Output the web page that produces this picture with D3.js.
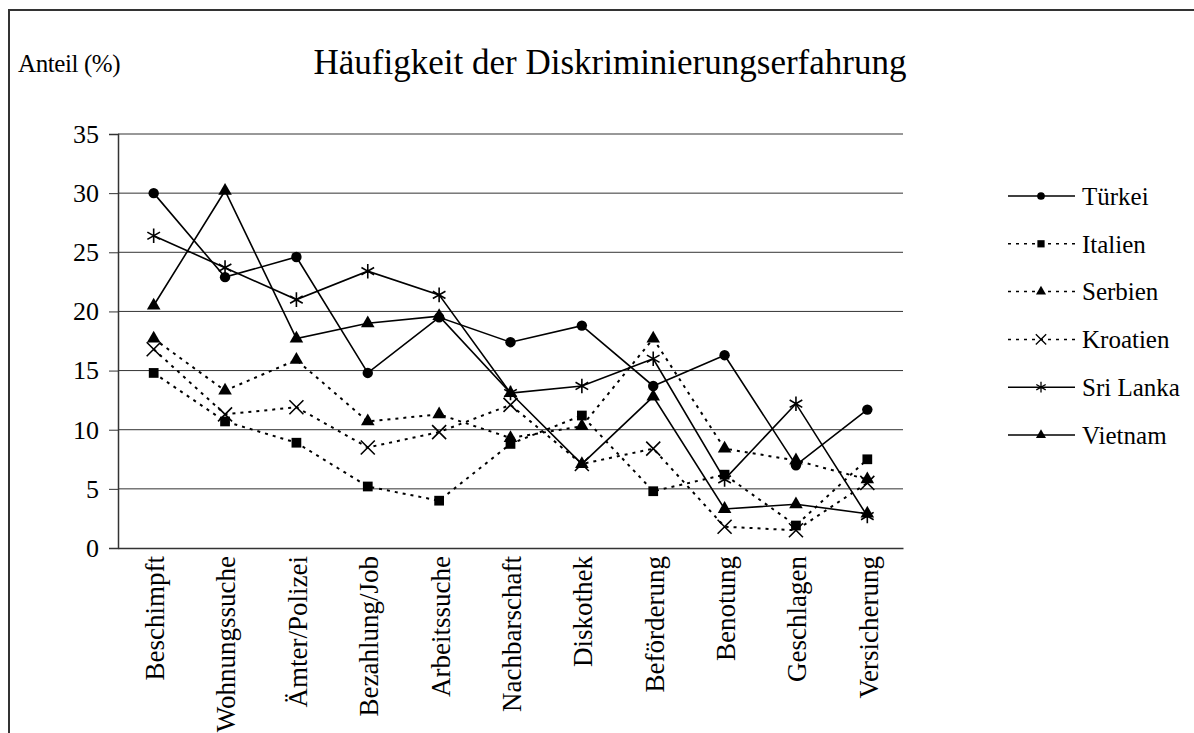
<!DOCTYPE html>
<html>
<head>
<meta charset="utf-8">
<script src="https://cdn.jsdelivr.net/npm/d3@7"></script>
<style>
  body { margin: 0; background: #fff; }
  text { font-family: "Liberation Serif", "Times New Roman", serif; fill: #000; }
</style>
</head>
<body>
<div id="chart"></div>
<script>
// Kategorien und Werte (Anteil in %)
const categories = ["Beschimpft", "Wohnungssuche", "Ämter/Polizei", "Bezahlung/Job", "Arbeitssuche",
    "Nachbarschaft", "Diskothek", "Beförderung", "Benotung", "Geschlagen", "Versicherung"];
const tuerkei  = [30.0, 22.9, 24.6, 14.8, 19.5, 17.4, 18.8, 13.7, 16.3, 7.0, 11.7];
const italien  = [14.8, 10.7, 8.9, 5.2, 4.0, 8.8, 11.2, 4.8, 6.2, 1.9, 7.5];
const serbien  = [17.7, 13.3, 15.9, 10.7, 11.3, 9.3, 10.3, 17.7, 8.4, 7.4, 5.8];
const kroatien = [16.8, 11.3, 11.9, 8.5, 9.8, 12.1, 7.1, 8.4, 1.8, 1.5, 5.5];
const srilanka = [26.4, 23.7, 21.0, 23.4, 21.4, 13.1, 13.7, 16.0, 5.8, 12.2, 2.7];
const vietnam  = [20.5, 30.2, 17.7, 19.0, 19.6, 13.1, 7.1, 12.8, 3.3, 3.7, 2.9];
const seriesNames = ["Türkei", "Italien", "Serbien", "Kroatien", "Sri Lanka", "Vietnam"];
const yTicks = [0, 5, 10, 15, 20, 25, 30, 35];

const W = 1194, H = 733;
const plot = {left: 118, right: 903, top: 134, bottom: 548};

const series = [
    {name: seriesNames[0], values: tuerkei,  symbol: d3.symbolCircle,   size: 85,  dash: null, stroke: false},
    {name: seriesNames[1], values: italien,  symbol: d3.symbolSquare,   size: 95,  dash: "3,5", stroke: false},
    {name: seriesNames[2], values: serbien,  symbol: d3.symbolTriangle, size: 80,  dash: "3,5", stroke: false},
    {name: seriesNames[3], values: kroatien, symbol: d3.symbolTimes,    size: 130, dash: "3,5", stroke: true},
    {name: seriesNames[4], values: srilanka, symbol: d3.symbolAsterisk, size: 150, dash: null, stroke: true},
    {name: seriesNames[5], values: vietnam,  symbol: d3.symbolTriangle, size: 80,  dash: null, stroke: false}
];

const svg = d3.select("#chart").append("svg")
    .attr("width", W)
    .attr("height", H);

// Rahmen
svg.append("rect")
    .attr("x", 9).attr("y", 10)
    .attr("width", W + 20).attr("height", H + 20)
    .attr("fill", "none")
    .attr("stroke", "#333")
    .attr("stroke-width", 2);

const xScale = d3.scaleBand()
    .domain(categories)
    .range([plot.left, plot.right]);
const cx = c => xScale(c) + xScale.bandwidth() / 2;

const yScale = d3.scaleLinear()
    .domain([0, 35])
    .range([plot.bottom, plot.top]);

// Gitternetz
svg.append("g")
    .selectAll("line")
    .data(yTicks.slice(1))
    .join("line")
    .attr("x1", plot.left).attr("x2", plot.right)
    .attr("y1", d => yScale(d)).attr("y2", d => yScale(d))
    .attr("stroke", "#333")
    .attr("stroke-width", 1);

// y-Achse
const yAxis = svg.append("g")
    .attr("transform", `translate(${plot.left},0)`)
    .call(d3.axisLeft(yScale).tickValues(yTicks).tickSize(9).tickPadding(10));
yAxis.select(".domain").attr("stroke", "#333").attr("stroke-width", 1.5);
yAxis.selectAll(".tick line").attr("stroke", "#333");
yAxis.selectAll(".tick text")
    .attr("font-size", 26)
    .attr("font-family", "Liberation Serif, serif");

// x-Achse
const xAxis = svg.append("g")
    .attr("transform", `translate(0,${plot.bottom})`)
    .call(d3.axisBottom(xScale).tickSize(0).tickPadding(0));
xAxis.select(".domain").attr("stroke", "#333").attr("stroke-width", 1.5);
xAxis.selectAll(".tick text")
    .attr("font-size", 27)
    .attr("font-family", "Liberation Serif, serif")
    .attr("text-anchor", "end")
    .attr("transform", "translate(1,8) rotate(-90)")
    .attr("x", 0)
    .attr("y", 0)
    .attr("dy", "0.35em");

// Linien
const line = d3.line()
    .x((d, i) => cx(categories[i]))
    .y(d => yScale(d));

series.forEach(s => {
    svg.append("path")
        .datum(s.values)
        .attr("fill", "none")
        .attr("stroke", "#000")
        .attr("stroke-width", s.dash ? 2 : 1.6)
        .attr("stroke-dasharray", s.dash)
        .attr("d", line);
});

series.forEach(s => {
    svg.append("g")
        .selectAll("path")
        .data(s.values)
        .join("path")
        .attr("transform", (d, i) => `translate(${cx(categories[i])},${yScale(d)})`)
        .attr("d", d3.symbol().type(s.symbol).size(s.size))
        .attr("fill", s.stroke ? "none" : "#000")
        .attr("stroke", s.stroke ? "#000" : "none")
        .attr("stroke-width", 1.6);
});

// Legende
const legend = svg.append("g");
series.forEach((s, i) => {
    const ly = 196 + i * 47.8;
    const g = legend.append("g").attr("transform", `translate(0,${ly})`);
    g.append("line")
        .attr("x1", 1008).attr("x2", 1075)
        .attr("stroke", "#000")
        .attr("stroke-width", 1.5)
        .attr("stroke-dasharray", s.dash);
    g.append("path")
        .attr("transform", "translate(1041,0)")
        .attr("d", d3.symbol().type(s.symbol).size(s.size * 0.55))
        .attr("fill", s.stroke ? "none" : "#000")
        .attr("stroke", s.stroke ? "#000" : "none")
        .attr("stroke-width", 1.3);
    g.append("text")
        .attr("x", 1082)
        .attr("dy", "0.35em")
        .attr("font-size", 25)
        .text(s.name);
});

// Titel
svg.append("text")
    .attr("x", 610)
    .attr("y", 62)
    .attr("dy", "0.35em")
    .attr("text-anchor", "middle")
    .attr("font-size", 35)
    .text("Häufigkeit der Diskriminierungserfahrung");

svg.append("text")
    .attr("x", 18)
    .attr("y", 63)
    .attr("dy", "0.35em")
    .attr("font-size", 25)
    .attr("letter-spacing", "-0.4")
    .text("Anteil (%)");
</script>
</body>
</html>
